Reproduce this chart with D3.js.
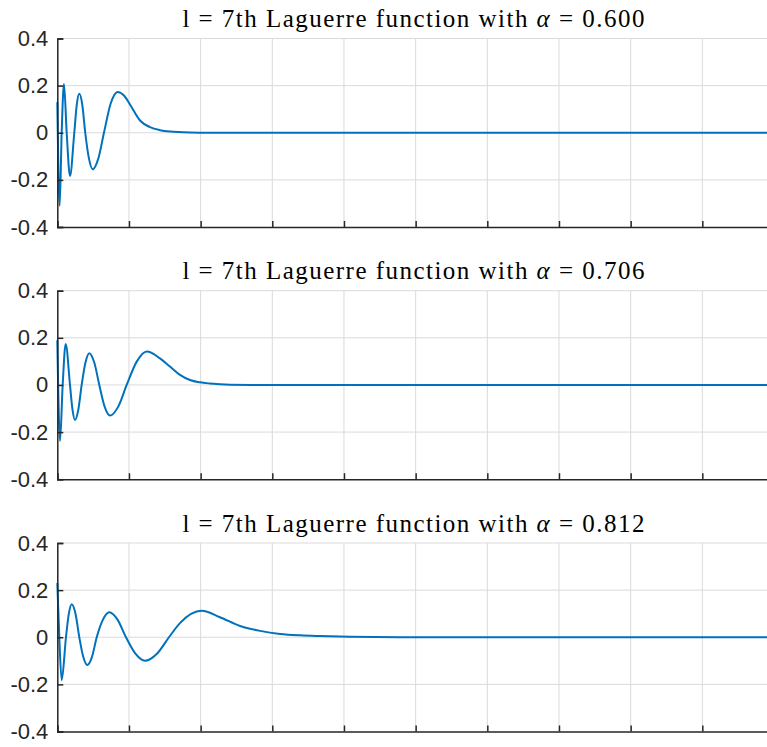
<!DOCTYPE html>
<html>
<head>
<meta charset="utf-8">
<script src="https://cdn.jsdelivr.net/npm/d3@7"></script>
<style>
  body { margin: 0; background: #ffffff; }
  svg { display: block; }
</style>
</head>
<body>
<div id="chart"></div>
<script>
// values
const alphas = ["0.600", "0.706", "0.812"];

const kTop = [0, 0.33, 0.61, 0.93, 1.31, 1.77, 2.37, 2.72, 3.07, 3.48, 3.9, 4.42, 4.94, 5.72, 6.51, 7.46, 8.42, 9.3, 10.14, 11.54, 12.93, 14.32, 15.72, 18.5, 21.3, 100];
const lTop = [0.13, -0.31, 0, 0.207, 0, -0.183, 0, 0.12, 0.165, 0.12, 0, -0.11, -0.155, -0.11, 0, 0.125, 0.173, 0.158, 0.12, 0.052, 0.024, 0.011, 0.005, 0.001, 0, 0];

const kMid = [0, 0.38, 0.75, 1.17, 1.77, 2.12, 2.47, 2.93, 3.4, 3.93, 4.46, 5.16, 5.86, 6.6, 7.35, 8.5, 9.68, 11.1, 12.5, 14.32, 15.72, 17.12, 18.51, 19.9, 21.3, 24.1, 28.3, 100];
const lMid = [0.19, -0.237, 0, 0.174, 0, -0.105, -0.149, -0.105, 0, 0.095, 0.135, 0.095, 0, -0.092, -0.13, -0.092, 0, 0.1, 0.142, 0.113, 0.078, 0.043, 0.021, 0.011, 0.006, 0.001, 0, 0];

const kBot = [0, 0.28, 0.61, 1.21, 1.61, 2.01, 2.54, 3.07, 3.62, 4.18, 4.84, 5.5, 6.37, 7.25, 8.4, 9.58, 10.9, 12.23, 13.9, 15.58, 17.11, 20.14, 22.7, 25.5, 28.3, 31.1, 33.9, 36.6, 40.8, 47.8, 100];
const lBot = [0.23, 0, -0.182, 0, 0.1, 0.14, 0.1, 0, -0.083, -0.118, -0.083, 0, 0.075, 0.106, 0.075, 0, -0.07, -0.1, -0.07, 0, 0.06, 0.112, 0.085, 0.048, 0.027, 0.014, 0.008, 0.005, 0.002, 0, 0];

const xTicks = [0, 10, 20, 30, 40, 50, 60, 70, 80, 90, 100];
const yTicks = [-0.4, -0.2, 0, 0.2, 0.4];
const yTickLabels = ["-0.4", "-0.2", "0", "0.2", "0.4"];

const width = 767, height = 747;
const left = 57.3, right = 774;
const panelTops = [38.5, 290.7, 543.0];
const panelH = 188.5;
const titleWidth = 462;

const svg = d3.select("#chart").append("svg")
    .attr("width", width)
    .attr("height", height)
    .style("background-color", "#ffffff");

const x = d3.scaleLinear().domain([0, 100]).range([left, right]);

function drawPanel(top, ks, ls, alpha) {
    const y = d3.scaleLinear().domain([-0.4, 0.4]).range([top + panelH, top]);
    const g = svg.append("g");

    // grid
    g.append("g").selectAll("line")
        .data(xTicks.slice(1))
        .enter().append("line")
        .attr("x1", d => x(d)).attr("x2", d => x(d))
        .attr("y1", top).attr("y2", top + panelH)
        .attr("stroke", "#dadada").attr("stroke-width", 1);
    g.append("g").selectAll("line")
        .data(yTicks.slice(1))
        .enter().append("line")
        .attr("x1", left).attr("x2", right)
        .attr("y1", d => y(d)).attr("y2", d => y(d))
        .attr("stroke", "#dadada").attr("stroke-width", 1);

    // curve
    const pts = ks.map((k, i) => [k, ls[i]]);
    g.append("path")
        .datum(pts)
        .attr("fill", "none")
        .attr("stroke", "#0072BD")
        .attr("stroke-width", 2)
        .attr("stroke-linejoin", "round")
        .attr("d", d3.line()
            .x(d => x(d[0]))
            .y(d => y(d[1]))
            .curve(d3.curveMonotoneX));

    // axes, ticks inward
    const xAxis = d3.axisBottom(x).tickValues(xTicks).tickSize(-6).tickFormat("");
    g.append("g")
        .attr("transform", `translate(0,${top + panelH})`)
        .call(xAxis)
        .call(a => a.select(".domain").attr("stroke", "#262626").attr("stroke-width", 1.5))
        .call(a => a.selectAll(".tick line").attr("stroke", "#262626").attr("stroke-width", 1.5));

    const yAxis = d3.axisLeft(y).tickValues(yTicks).tickSize(-6)
        .tickFormat((d, i) => yTickLabels[i]).tickPadding(9);
    g.append("g")
        .attr("transform", `translate(${left},0)`)
        .call(yAxis)
        .call(a => a.select(".domain").attr("stroke", "#262626").attr("stroke-width", 1.5))
        .call(a => a.selectAll(".tick line").attr("stroke", "#262626").attr("stroke-width", 1.5))
        .call(a => a.selectAll(".tick text")
            .attr("fill", "#262626")
            .style("font-family", "'Liberation Sans', Arial, sans-serif")
            .style("font-size", "22px"));

    // title, spaced out to the reference width
    const t = g.append("text")
        .attr("x", (left + right) / 2 - 1.5)
        .attr("y", top - 11.5)
        .attr("text-anchor", "middle")
        .style("font-family", "'Liberation Serif', 'Times New Roman', serif")
        .style("font-size", "25px")
        .attr("fill", "#000000");
    t.append("tspan").text("l = 7th Laguerre function with ");
    t.append("tspan").style("font-style", "italic").text("α");
    t.append("tspan").text(" = " + alpha);

    const n = t.text().length;
    const natural = t.node().getComputedTextLength();
    t.style("letter-spacing", Math.max(0, (titleWidth - natural) / (n - 1)) + "px");
}

drawPanel(panelTops[0], kTop, lTop, alphas[0]);
drawPanel(panelTops[1], kMid, lMid, alphas[1]);
drawPanel(panelTops[2], kBot, lBot, alphas[2]);
</script>
</body>
</html>
